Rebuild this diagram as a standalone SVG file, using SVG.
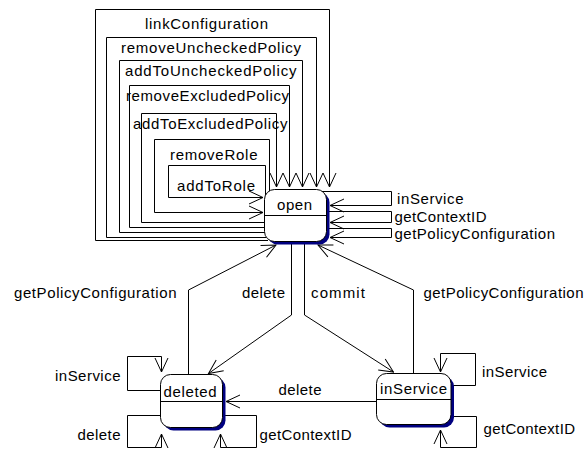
<svg xmlns="http://www.w3.org/2000/svg" width="587" height="452" viewBox="0 0 587 452">
<style>
.c{fill:none;stroke:#000;stroke-width:1}
.a{marker-end:url(#arr)}
.t{font-family:"Liberation Sans",Arial,sans-serif;font-size:15px;fill:#000}
.body{fill:#fff;stroke:#000;stroke-width:1}
.sh{fill:#000080;stroke:none}
.div{stroke:#000;stroke-width:1}
</style>
<defs>
<marker id="arr" viewBox="-16 -8 17 16" refX="0" refY="0" markerWidth="17" markerHeight="16" markerUnits="userSpaceOnUse" orient="auto">
<path d="M-14,-6.5 L0,0 L-14,6.5" fill="none" stroke="#000" stroke-width="1"/>
</marker>
</defs>
<rect width="587" height="452" fill="#fff"/>
<g id="connectors">
<path class="c a" d="M268,240.5 H95.5 V9.5 H329.5 V187"/>
<path class="c a" d="M266,237.5 H106.5 V37.5 H316.5 V187"/>
<path class="c a" d="M266,232.5 H119.5 V60.5 H302.5 V187"/>
<path class="c a" d="M266,227.5 H129.5 V85.5 H289.5 V187"/>
<path class="c a" d="M266,222.5 H141.5 V113.5 H276.5 V187"/>
<path class="c a" d="M269.5,196 V139.5 H154.5 V212.5 H263"/>
<path class="c a" d="M265.5,200 V165.5 H168.5 V197.5 H263"/>
<path class="c a" d="M320,191.5 H391.5 V205.5 H330"/>
<path class="c a" d="M320,211.5 H391.5 V222.5 H330"/>
<path class="c a" d="M320,228.5 H391.5 V237.5 H330"/>
<path class="c a" d="M188.5,376 V290 L276,245"/>
<path class="c a" d="M291.5,240 V315 L208.5,373.5"/>
<path class="c a" d="M304.5,240 V315 L393.5,372"/>
<path class="c a" d="M413.5,375 V290 L318,245"/>
<path class="c a" d="M378,401.5 H226"/>
<path class="c a" d="M164,390.5 H127.5 V356.5 H161.5 V372"/>
<path class="c a" d="M164,415.5 H127.5 V447.5 H161.5 V434"/>
<path class="c a" d="M218,415.5 H256.5 V447.5 H220.5 V434"/>
<path class="c a" d="M446,385.5 H475.5 V353.5 H440.5 V372"/>
<path class="c a" d="M446,416.5 H476.5 V447.5 H440.5 V430"/>
<text class="t" x="145" y="29" textLength="123" lengthAdjust="spacing">linkConfiguration</text>
<text class="t" x="121" y="52.5" textLength="180" lengthAdjust="spacing">removeUncheckedPolicy</text>
<text class="t" x="125" y="75.5" textLength="171.5" lengthAdjust="spacing">addToUncheckedPolicy</text>
<text class="t" x="126" y="100.5" textLength="163" lengthAdjust="spacing">removeExcludedPolicy</text>
<text class="t" x="133" y="129" textLength="154.5" lengthAdjust="spacing">addToExcludedPolicy</text>
<text class="t" x="170" y="159.5" textLength="87.5" lengthAdjust="spacing">removeRole</text>
<text class="t" x="177" y="190.5" textLength="78" lengthAdjust="spacing">addToRole</text>
<text class="t" x="397" y="204" textLength="66.5" lengthAdjust="spacing">inService</text>
<text class="t" x="394.5" y="222" textLength="92" lengthAdjust="spacing">getContextID</text>
<text class="t" x="394.5" y="239" textLength="160.5" lengthAdjust="spacing">getPolicyConfiguration</text>
<text class="t" x="14" y="298" textLength="162.5" lengthAdjust="spacing">getPolicyConfiguration</text>
<text class="t" x="242" y="298" textLength="43" lengthAdjust="spacing">delete</text>
<text class="t" x="311" y="298" textLength="54" lengthAdjust="spacing">commit</text>
<text class="t" x="423.5" y="298" textLength="160" lengthAdjust="spacing">getPolicyConfiguration</text>
<text class="t" x="55" y="381" textLength="65.5" lengthAdjust="spacing">inService</text>
<text class="t" x="278.5" y="394.5" textLength="43" lengthAdjust="spacing">delete</text>
<text class="t" x="482" y="377" textLength="65" lengthAdjust="spacing">inService</text>
<text class="t" x="77.5" y="439.5" textLength="43" lengthAdjust="spacing">delete</text>
<text class="t" x="259.5" y="440" textLength="92" lengthAdjust="spacing">getContextID</text>
<text class="t" x="483.5" y="433.5" textLength="91.5" lengthAdjust="spacing">getContextID</text>
</g>
<g id="node-open">
<rect class="sh" x="267.5" y="192.5" width="62" height="52" rx="10"/>
<rect class="body" x="264.5" y="189.5" width="62" height="52" rx="10"/>
<line class="div" x1="264.5" y1="215.5" x2="326.5" y2="215.5"/>
<text class="t" x="277" y="210" textLength="35" lengthAdjust="spacing">open</text>
</g>
<g id="node-deleted">
<rect class="sh" x="163.5" y="377.5" width="62" height="53" rx="10"/>
<rect class="body" x="160.5" y="374.5" width="62" height="53" rx="10"/>
<line class="div" x1="160.5" y1="401.5" x2="222.5" y2="401.5"/>
<text class="t" x="163.5" y="397" textLength="53" lengthAdjust="spacing">deleted</text>
</g>
<g id="node-inService">
<rect class="sh" x="379.5" y="376.5" width="74.5" height="51" rx="10"/>
<rect class="body" x="376.5" y="373.5" width="74.5" height="51" rx="10"/>
<line class="div" x1="376.5" y1="399.5" x2="451" y2="399.5"/>
<text class="t" x="380" y="394" textLength="67" lengthAdjust="spacing">inService</text>
</g>
</svg>
